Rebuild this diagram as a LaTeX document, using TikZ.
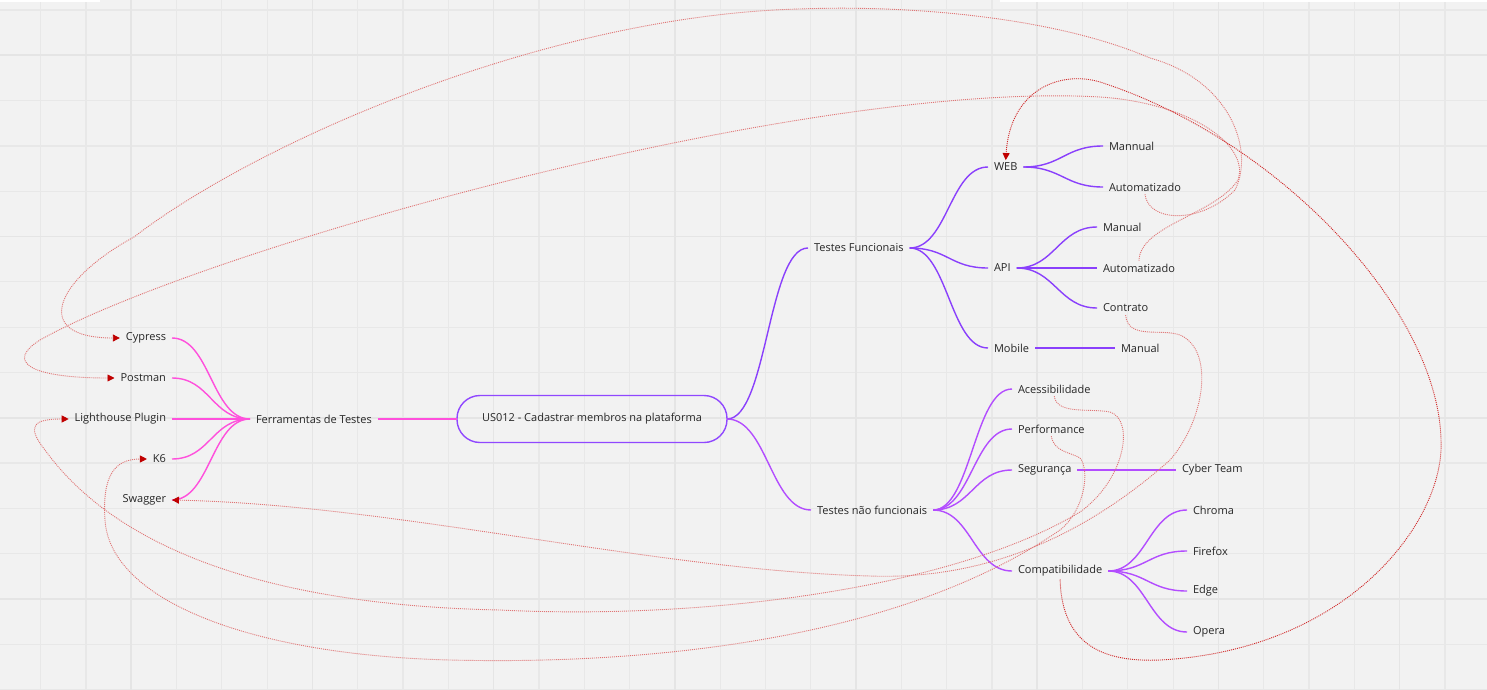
\documentclass[tikz,border=0pt]{standalone}
\usepackage{fontspec}
\setmainfont{Open Sans}
\usepackage{xcolor}
\usepackage{tikz}
\usetikzlibrary{arrows.meta}

\definecolor{bg}{HTML}{F2F2F2}
\definecolor{gridminor}{HTML}{E8E8E8}
\definecolor{gridmajor}{HTML}{E5E5E5}
\definecolor{ink}{HTML}{262626}
\definecolor{toolpink}{HTML}{FF50DC}
\definecolor{funcpurple}{HTML}{8A40FC}
\definecolor{nfpurple}{HTML}{B34DFF}
\definecolor{corepurple}{HTML}{9048FF}
\definecolor{linkred}{HTML}{E07575}
\definecolor{linkdark}{HTML}{D02A2A}
\definecolor{tipred}{HTML}{C00000}

\begin{document}
\begin{tikzpicture}[x=1pt, y=-1pt,
    txt/.style={inner xsep=6pt, inner ysep=3pt, outer sep=0pt, text=ink, font=\fontsize{11}{13}\selectfont},
    core/.style={txt, draw=corepurple, line width=1.4pt, rounded corners=23pt, minimum width=270pt, minimum height=47pt},
    tool/.style={draw=toolpink, line width=1.4pt},
    func/.style={draw=funcpurple, line width=1.4pt},
    nfunc/.style={draw=nfpurple, line width=1.4pt},
    link/.style={draw=linkred, line width=0.9pt, dash pattern=on 1pt off 1pt, -{Triangle[length=7pt,width=7pt,color=tipred]}}]

    % === BACKGROUND: board grid ===
    \useasboundingbox (0,0) rectangle (1487,690);
    \fill[bg] (0,0) rectangle (1487,690);
    \foreach \i in {0,...,31}
        \draw[gridminor, line width=1.2pt] ({40.6+45.3*\i},0) -- ({40.6+45.3*\i},690);
    \foreach \i in {0,...,15}
        \draw[gridminor, line width=1.2pt] (0,{10+45.3*\i}) -- (1487,{10+45.3*\i});
    \foreach \i in {0,...,7}
        \draw[gridmajor, line width=1.7pt] ({131.2+181.2*\i},0) -- ({131.2+181.2*\i},690);
    \foreach \i in {0,...,3}
        \draw[gridmajor, line width=1.7pt] (0,{55.3+181.2*\i}) -- (1487,{55.3+181.2*\i});
    \fill[white] (0,0) rectangle (100,2.5);
    \fill[white] (1000,0) rectangle (1487,2.5);

    % === CENTER ===
    \node[core] (us) at (592,419) {US012 - Cadastrar membros na plataforma};

    % === LEFT: tools ===
    \node[txt, anchor=west] (ferr) at (250,419) {Ferramentas de Testes};
    \node[txt, anchor=east] (cyp) at (172,338) {Cypress};
    \node[txt, anchor=east] (pos) at (172,378) {Postman};
    \node[txt, anchor=east] (lh) at (172,419) {Lighthouse Plugin};
    \node[txt, anchor=east] (k6) at (172,459) {K6};
    \node[txt, anchor=east] (swg) at (172,500) {Swagger};

    \draw[tool] (ferr.east) -- (us.west);
    \foreach \n in {cyp,pos,lh,k6,swg}
        \draw[tool] (\n.east) .. controls +(38,0) and +(-38,0) .. (ferr.west);

    % === RIGHT TOP: functional tests ===
    \node[txt, anchor=west] (tf) at (808,248) {Testes Funcionais};
    \node[txt, anchor=west] (web) at (988,167) {WEB};
    \node[txt, anchor=west] (wman) at (1103,146) {Mannual};
    \node[txt, anchor=west] (waut) at (1103,187) {Automatizado};
    \node[txt, anchor=west] (api) at (988,268) {API};
    \node[txt, anchor=west] (aman) at (1097,227) {Manual};
    \node[txt, anchor=west] (aaut) at (1097,268) {Automatizado};
    \node[txt, anchor=west] (actr) at (1097,308) {Contrato};
    \node[txt, anchor=west] (mob) at (988,348) {Mobile};
    \node[txt, anchor=west] (mman) at (1115,348) {Manual};

    \draw[func] (us.east) .. controls +(40,0) and +(-40,0) .. (tf.west);
    \foreach \n in {web,api,mob}
        \draw[func] (tf.east) .. controls +(38,0) and +(-38,0) .. (\n.west);
    \foreach \n in {wman,waut}
        \draw[func] (web.east) .. controls +(38,0) and +(-38,0) .. (\n.west);
    \foreach \n in {aman,aaut,actr}
        \draw[func] (api.east) .. controls +(38,0) and +(-38,0) .. (\n.west);
    \draw[func] (mob.east) -- (mman.west);

    % === RIGHT BOTTOM: non functional tests ===
    \node[txt, anchor=west] (tnf) at (811,510) {Testes não funcionais};
    \node[txt, anchor=west] (acc) at (1012,389) {Acessibilidade};
    \node[txt, anchor=west] (perf) at (1012,429) {Performance};
    \node[txt, anchor=west] (seg) at (1012,470) {Segurança};
    \node[txt, anchor=west] (cyber) at (1176,470) {Cyber Team};
    \node[txt, anchor=west] (comp) at (1012,571) {Compatibilidade};
    \node[txt, anchor=west] (chr) at (1187,510) {Chroma};
    \node[txt, anchor=west] (ffx) at (1187,551) {Firefox};
    \node[txt, anchor=west] (edg) at (1187,591) {Edge};
    \node[txt, anchor=west] (opr) at (1187,632) {Opera};

    \draw[nfunc] (us.east) .. controls +(40,0) and +(-40,0) .. (tnf.west);
    \foreach \n in {acc,perf,seg,comp}
        \draw[nfunc] (tnf.east) .. controls +(38,0) and +(-38,0) .. (\n.west);
    \draw[nfunc] (seg.east) -- (cyber.west);
    \foreach \n in {chr,ffx,edg,opr}
        \draw[nfunc] (comp.east) .. controls +(38,0) and +(-38,0) .. (\n.west);

    % === LINKS: test type -> tool ===
    % Automatizado (WEB) -> Cypress
    \draw[link] (waut.south) .. controls (1148,222) and (1200,225) .. (1235,190)
        .. controls (1255,150) and (1230,80) .. (1150,58)
        .. controls (1050,15) and (900,5) .. (800,9)
        .. controls (550,15) and (260,140) .. (134,237)
        .. controls (55,280) and (30,338) .. (cyp.west);
    % Automatizado (API) -> Postman
    \draw[link] (aaut.north) .. controls (1140,225) and (1215,215) .. (1238,180)
        .. controls (1250,145) and (1190,103) .. (1100,97)
        .. controls (800,80) and (200,250) .. (40,340)
        .. controls (5,362) and (30,378) .. (pos.west);
    % Compatibilidade -> WEB
    \draw[link, draw=linkdark] (comp.south) .. controls (1062,650) and (1110,662) .. (1160,660)
        .. controls (1350,650) and (1445,520) .. (1441,440)
        .. controls (1438,310) and (1280,140) .. (1100,82)
        .. controls (1060,70) and (1010,90) .. (web.north);
    % Contrato -> Swagger
    \draw[link] (actr.south) .. controls (1128,340) and (1160,328) .. (1180,335)
        .. controls (1215,350) and (1205,420) .. (1170,460)
        .. controls (1080,540) and (980,580) .. (870,576)
        .. controls (650,570) and (400,505) .. (swg.east);
    % Acessibilidade -> Lighthouse Plugin
    \draw[link] (acc.south) .. controls (1057,415) and (1090,408) .. (1110,412)
        .. controls (1135,420) and (1125,480) .. (1080,512)
        .. controls (950,590) and (700,620) .. (500,610)
        .. controls (250,605) and (110,540) .. (45,450)
        .. controls (25,425) and (35,419) .. (lh.west);
    % Performance -> K6
    \draw[link] (perf.south) .. controls (1054,452) and (1070,452) .. (1080,458)
        .. controls (1090,470) and (1085,510) .. (1060,530)
        .. controls (900,640) and (650,665) .. (450,660)
        .. controls (250,655) and (110,600) .. (105,520)
        .. controls (102,475) and (115,459) .. (k6.west);
\end{tikzpicture}
\end{document}
